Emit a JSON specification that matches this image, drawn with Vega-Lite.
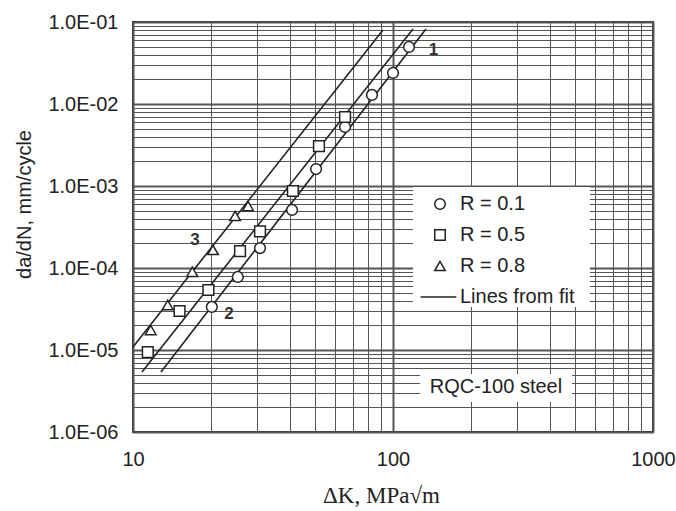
{
  "$schema": "https://vega.github.io/schema/vega-lite/v6.json",
  "width": 520,
  "height": 410,
  "autosize": {"type": "none"},
  "padding": {"left": 133, "top": 22, "right": 23, "bottom": 79},
  "background": "white",
  "config": {
    "view": {"stroke": "#333", "strokeWidth": 2},
    "font": "Liberation Sans"
  },
  "datasets": {
    "pts": [
      {"dk": 20.1, "rate": 3.35e-5, "series": "R = 0.1"},
      {"dk": 25.3, "rate": 7.77e-5, "series": "R = 0.1"},
      {"dk": 30.8, "rate": 1.75e-4, "series": "R = 0.1"},
      {"dk": 40.9, "rate": 5.1e-4, "series": "R = 0.1"},
      {"dk": 50.6, "rate": 1.61e-3, "series": "R = 0.1"},
      {"dk": 65.4, "rate": 5.24e-3, "series": "R = 0.1"},
      {"dk": 83.0, "rate": 1.29e-2, "series": "R = 0.1"},
      {"dk": 100, "rate": 2.39e-2, "series": "R = 0.1"},
      {"dk": 115.2, "rate": 4.96e-2, "series": "R = 0.1"},
      {"dk": 11.4, "rate": 9.45e-6, "series": "R = 0.5"},
      {"dk": 15.1, "rate": 2.99e-5, "series": "R = 0.5"},
      {"dk": 19.5, "rate": 5.39e-5, "series": "R = 0.5"},
      {"dk": 25.8, "rate": 1.61e-4, "series": "R = 0.5"},
      {"dk": 30.8, "rate": 2.8e-4, "series": "R = 0.5"},
      {"dk": 41.2, "rate": 8.69e-4, "series": "R = 0.5"},
      {"dk": 51.9, "rate": 3.07e-3, "series": "R = 0.5"},
      {"dk": 65.4, "rate": 6.94e-3, "series": "R = 0.5"},
      {"dk": 11.7, "rate": 1.75e-5, "series": "R = 0.8"},
      {"dk": 13.6, "rate": 3.54e-5, "series": "R = 0.8"},
      {"dk": 16.9, "rate": 9.0e-5, "series": "R = 0.8"},
      {"dk": 20.3, "rate": 1.66e-4, "series": "R = 0.8"},
      {"dk": 24.7, "rate": 4.31e-4, "series": "R = 0.8"},
      {"dk": 27.7, "rate": 5.7e-4, "series": "R = 0.8"}
    ],
    "fits": [
      {"dk": 10, "rate": 1.09e-5, "fit": "3"},
      {"dk": 91.5, "rate": 0.0799, "fit": "3"},
      {"dk": 10.83, "rate": 5.39e-6, "fit": "2"},
      {"dk": 119.4, "rate": 0.0821, "fit": "2"},
      {"dk": 12.81, "rate": 5.39e-6, "fit": "1"},
      {"dk": 133.9, "rate": 0.0821, "fit": "1"}
    ],
    "notes": [
      {"dk": 143, "rate": 0.0456, "label": "1"},
      {"dk": 23.4, "rate": 2.75e-5, "label": "2"},
      {"dk": 17.3, "rate": 2.2e-4, "label": "3"}
    ],
    "boxes": [
      {"x1": 119.4, "x2": 572, "y1": 9.72e-4, "y2": 3.35e-5},
      {"x1": 127, "x2": 488, "y1": 5.09e-6, "y2": 2.32e-6}
    ],
    "steel": [
      {"dk": 249, "rate": 3.54e-6, "label": "RQC-100 steel"}
    ]
  },
  "layer": [
    {
      "data": {"name": "boxes"},
      "mark": {"type": "rect", "fill": "white"},
      "encoding": {
        "x": {
          "field": "x1", "type": "quantitative",
          "scale": {"type": "log", "domain": [10, 1000], "nice": false},
          "axis": {
            "title": "ΔK, MPa√m",
            "titleFont": "Liberation Serif",
            "titleFontSize": 23,
            "titleFontWeight": "normal",
            "titleColor": "#222",
            "titleX": 248,
            "titleY": 70,
            "titleBaseline": "alphabetic",
            "values": [10,20,30,40,50,60,70,80,90,100,200,300,400,500,600,700,800,900,1000],
            "labelExpr": "abs(log(datum.value)/LN10 - round(log(datum.value)/LN10)) < 0.001 ? format(datum.value, 'd') : ''",
            "labelFontSize": 20,
            "labelColor": "#222",
            "labelPadding": 17,
            "labelFlush": false,
            "labelOverlap": false,
            "ticks": false,
            "tickSize": 0,
            "domain": false,
            "grid": true,
            "gridColor": "#555",
            "gridOpacity": 1,
            "gridWidth": {"condition": {"test": "abs(log(datum.value)/LN10 - round(log(datum.value)/LN10)) < 0.001", "value": 2}, "value": 1}
          }
        },
        "x2": {"field": "x2"},
        "y": {
          "field": "y1", "type": "quantitative",
          "scale": {"type": "log", "domain": [1e-6, 0.1], "nice": false},
          "axis": {
            "title": "da/dN, mm/cycle",
            "titleFontSize": 20,
            "titleFontWeight": "normal",
            "titleColor": "#222",
            "titleX": -99,
            "titleY": 182,
            "titleBaseline": "bottom",
            "values": [0.000001,0.000002,0.000003,0.000004,0.000005,0.000006,0.000007,0.000008,0.000009,
                       0.00001,0.00002,0.00003,0.00004,0.00005,0.00006,0.00007,0.00008,0.00009,
                       0.0001,0.0002,0.0003,0.0004,0.0005,0.0006,0.0007,0.0008,0.0009,
                       0.001,0.002,0.003,0.004,0.005,0.006,0.007,0.008,0.009,
                       0.01,0.02,0.03,0.04,0.05,0.06,0.07,0.08,0.09,0.1],
            "labelExpr": "abs(log(datum.value)/LN10 - round(log(datum.value)/LN10)) < 0.001 ? '1.0E-0' + format(-round(log(datum.value)/LN10), 'd') : ''",
            "labelFontSize": 20,
            "labelColor": "#222",
            "labelPadding": 15,
            "labelFlush": false,
            "labelOverlap": false,
            "ticks": false,
            "tickSize": 0,
            "domain": false,
            "grid": true,
            "gridColor": "#555",
            "gridOpacity": 1,
            "gridWidth": {"condition": {"test": "abs(log(datum.value)/LN10 - round(log(datum.value)/LN10)) < 0.001", "value": 2}, "value": 1}
          }
        },
        "y2": {"field": "y2"}
      }
    },
    {
      "data": {"name": "fits"},
      "mark": {"type": "line", "color": "#222", "strokeWidth": 1.6},
      "encoding": {
        "x": {"field": "dk", "type": "quantitative"},
        "y": {"field": "rate", "type": "quantitative"},
        "detail": {"field": "fit"}
      }
    },
    {
      "data": {"name": "pts"},
      "mark": {"type": "point", "filled": true, "fill": "white", "stroke": "#222", "strokeWidth": 1.5, "size": 115, "opacity": 1},
      "encoding": {
        "x": {"field": "dk", "type": "quantitative"},
        "y": {"field": "rate", "type": "quantitative"},
        "shape": {
          "field": "series", "type": "nominal",
          "scale": {
            "domain": ["R = 0.1", "R = 0.5", "R = 0.8", "Lines from fit"],
            "range": ["circle", "square", "triangle-up", "M-3.7,0H3.1"]
          },
          "legend": {
            "title": null,
            "orient": "none",
            "legendX": 297,
            "legendY": 172,
            "labelFontSize": 20,
            "labelColor": "#222",
            "labelOffset": 10,
            "rowPadding": 11,
            "symbolStrokeWidth": 1.5,
            "symbolSize": 110
          }
        }
      }
    },
    {
      "data": {"name": "notes"},
      "mark": {"type": "text", "fontSize": 17, "fontWeight": "bold", "color": "#333"},
      "encoding": {
        "x": {"field": "dk", "type": "quantitative"},
        "y": {"field": "rate", "type": "quantitative"},
        "text": {"field": "label"}
      }
    },
    {
      "data": {"name": "steel"},
      "mark": {"type": "text", "fontSize": 20, "color": "#222"},
      "encoding": {
        "x": {"field": "dk", "type": "quantitative"},
        "y": {"field": "rate", "type": "quantitative"},
        "text": {"field": "label"}
      }
    }
  ]
}
